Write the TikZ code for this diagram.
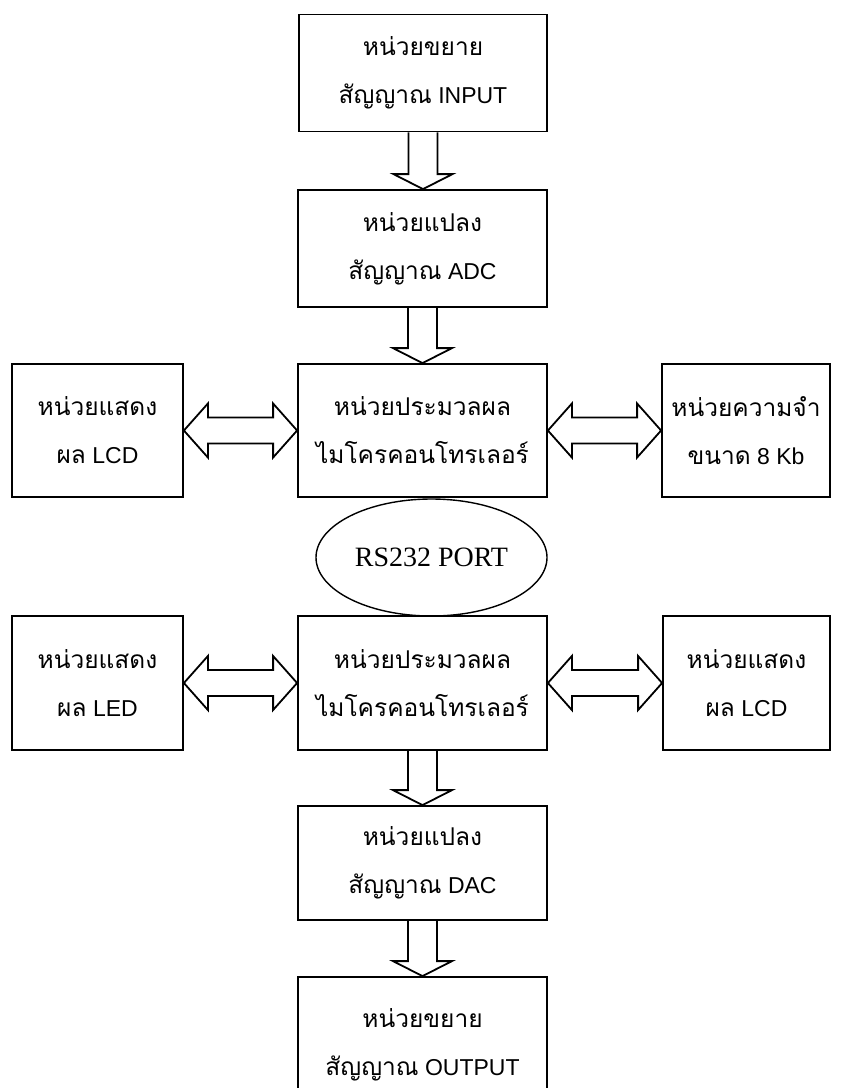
\documentclass[tikz,border=0pt]{standalone}
\usepackage{fontspec}
\usetikzlibrary{shapes.geometric,calc}
\setmainfont{Liberation Sans}
\newfontfamily\thfont[Script=Thai]{Loma}
\newfontfamily\rmserif{Liberation Serif}
\newcommand\T[1]{{\thfont\fontsize{24.5}{48}\selectfont #1}}
\begin{document}
\begin{tikzpicture}[x=1pt,y=1pt,
  box/.style={draw,line width=1.8pt,align=center,inner sep=0pt,
    font=\fontsize{23}{48}\selectfont},
  arr/.style={draw,line width=1.8pt,line join=miter},
]
\useasboundingbox (0,0) rectangle (843,-1088);
\clip (0,0) rectangle (843,-1088);
% boxes
\node[box,minimum width=248,minimum height=117] (b1) at (423,-73) {\T{หน่วยขยาย}\\\T{สัญญาณ} INPUT};
\node[box,minimum width=249,minimum height=117] (b2) at (422.5,-248.5) {\T{หน่วยแปลง}\\\T{สัญญาณ} ADC};
\node[box,minimum width=249,minimum height=133] (p1) at (422.5,-430.5) {\T{หน่วยประมวลผล}\\\T{ไมโครคอนโทรเลอร์}};
\node[box,minimum width=171,minimum height=133] (l1) at (97.5,-430.5) {\T{หน่วยแสดง}\\\T{ผล} LCD};
\node[box,minimum width=168,minimum height=133] (r1) at (746,-430.5) {\T{หน่วยความจำ}\\\T{ขนาด} 8 Kb};
\node[draw,line width=1.4pt,ellipse,minimum width=231,minimum height=117,inner sep=0pt,
  font=\rmserif\fontsize{28}{30}\selectfont] (rs) at (431.5,-557.5) {RS232 PORT};
\node[box,minimum width=249,minimum height=134] (p2) at (422.5,-683) {\T{หน่วยประมวลผล}\\\T{ไมโครคอนโทรเลอร์}};
\node[box,minimum width=171,minimum height=134] (l2) at (97.5,-683) {\T{หน่วยแสดง}\\\T{ผล} LED};
\node[box,minimum width=167,minimum height=134] (r2) at (746.5,-683) {\T{หน่วยแสดง}\\\T{ผล} LCD};
\node[box,minimum width=249,minimum height=114] (b5) at (422.5,-863) {\T{หน่วยแปลง}\\\T{สัญญาณ} DAC};
\node[box,minimum width=249,minimum height=136] (b6) at (422.5,-1045) {\T{หน่วยขยาย}\\\T{สัญญาณ} OUTPUT};
% vertical block arrows
\newcommand\varrow[2]{%
  \draw[arr] let \p1=(#1.south), \p2=(#2.north) in
    (\x1-14.5,\y1) -- (\x1-14.5,\y2+15) -- (\x1-29.5,\y2+15) -- (\x1,\y2)
    -- (\x1+29.5,\y2+15) -- (\x1+14.5,\y2+15) -- (\x1+14.5,\y1);}
\varrow{b1}{b2}
\varrow{b2}{p1}
\varrow{p2}{b5}
\varrow{b5}{b6}
% horizontal double block arrows
\newcommand\harrow[2]{%
  \draw[arr] let \p1=(#1.east), \p2=(#2.west) in
    (\x1,\y1) -- (\x1+24,\y1+27) -- (\x1+24,\y1+13) -- (\x2-24,\y1+13)
    -- (\x2-24,\y1+27) -- (\x2,\y1) -- (\x2-24,\y1-27) -- (\x2-24,\y1-13)
    -- (\x1+24,\y1-13) -- (\x1+24,\y1-27) -- cycle;}
\harrow{l1}{p1}
\harrow{p1}{r1}
\harrow{l2}{p2}
\harrow{p2}{r2}
\end{tikzpicture}
\end{document}
